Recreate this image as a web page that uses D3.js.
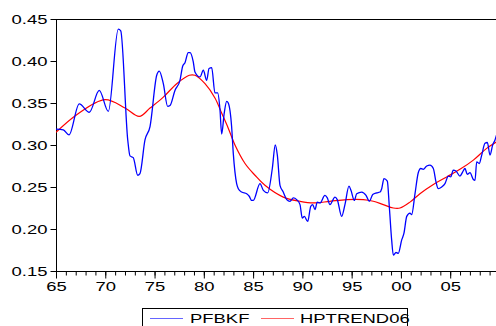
<!DOCTYPE html>
<html>
<head>
<meta charset="utf-8">
<script src="https://cdn.jsdelivr.net/npm/d3@7"></script>
<style>
  html, body { margin: 0; padding: 0; background: #fff; }
  svg { display: block; }
  text { font-family: "Liberation Sans", Arial, sans-serif; fill: #000; }
</style>
</head>
<body>
<svg id="chart" width="496" height="326"></svg>
<script>
// PFBKF series (decimal year, value)
const pfbkfYears = [
  1965.00, 1965.74, 1966.32, 1967.36, 1968.38, 1969.39, 1970.31, 1971.32, 1971.57, 1972.28,
  1972.51, 1972.84, 1973.29, 1973.52, 1974.03, 1974.54, 1975.22, 1975.48, 1975.89, 1976.33,
  1976.57, 1977.07, 1977.58, 1977.86, 1978.09, 1978.42, 1978.60, 1978.93, 1979.10, 1979.61,
  1979.95, 1980.29, 1980.53, 1980.80, 1981.13, 1981.40, 1981.64, 1981.81, 1982.07, 1982.32,
  1982.48, 1982.82, 1982.99, 1983.33, 1983.50, 1983.84, 1984.35, 1984.61, 1984.86, 1985.02,
  1985.70, 1986.04, 1986.48, 1986.95, 1987.25, 1987.46, 1987.73, 1988.06, 1988.41, 1988.74,
  1989.08, 1989.42, 1989.76, 1989.99, 1990.20, 1990.54, 1990.85, 1991.05, 1991.28, 1991.51,
  1991.79, 1992.29, 1992.53, 1992.80, 1993.31, 1993.54, 1993.99, 1994.32, 1994.73, 1994.93,
  1995.27, 1995.51, 1996.02, 1996.46, 1996.79, 1997.14, 1997.54, 1997.88, 1998.05, 1998.28,
  1998.62, 1998.82, 1999.06, 1999.23, 1999.50, 1999.73, 2000.08, 2000.31, 2000.59, 2000.92,
  2001.09, 2001.43, 2001.76, 2002.01, 2002.27, 2002.62, 2002.95, 2003.29, 2003.56, 2003.79,
  2004.14, 2004.47, 2004.81, 2005.05, 2005.31, 2005.59, 2005.99, 2006.27, 2006.50, 2006.74,
  2007.01, 2007.35, 2007.52, 2007.69, 2007.95, 2008.20, 2008.53, 2008.77, 2009.04, 2009.31,
  2009.55, 2009.75
];
const pfbkfValues = [
  0.319, 0.318, 0.312, 0.349, 0.339, 0.365, 0.340, 0.438, 0.436, 0.306,
  0.287, 0.285, 0.264, 0.266, 0.306, 0.322, 0.383, 0.388, 0.373, 0.346,
  0.347, 0.365, 0.377, 0.394, 0.398, 0.410, 0.410, 0.399, 0.387, 0.381,
  0.389, 0.377, 0.391, 0.392, 0.362, 0.362, 0.342, 0.313, 0.338, 0.352,
  0.350, 0.322, 0.290, 0.254, 0.248, 0.244, 0.242, 0.239, 0.234, 0.234,
  0.254, 0.246, 0.243, 0.272, 0.300, 0.288, 0.252, 0.244, 0.235, 0.233,
  0.237, 0.235, 0.229, 0.213, 0.215, 0.209, 0.227, 0.229, 0.223, 0.232,
  0.231, 0.240, 0.237, 0.229, 0.238, 0.235, 0.215, 0.229, 0.251, 0.246,
  0.234, 0.242, 0.244, 0.240, 0.233, 0.241, 0.243, 0.244, 0.248, 0.260,
  0.257, 0.227, 0.187, 0.169, 0.172, 0.171, 0.187, 0.195, 0.215, 0.219,
  0.217, 0.242, 0.267, 0.272, 0.271, 0.275, 0.276, 0.272, 0.256, 0.248,
  0.250, 0.254, 0.263, 0.262, 0.270, 0.269, 0.263, 0.268, 0.272, 0.265,
  0.267, 0.259, 0.258, 0.280, 0.278, 0.288, 0.302, 0.303, 0.288, 0.300,
  0.306, 0.314
];

// Hodrick-Prescott trend
const trendYears = [
  1965.00, 1967.10, 1969.97, 1972.00, 1973.45, 1974.54, 1975.89, 1977.25, 1978.53, 1979.10,
  1980.12, 1981.13, 1981.81, 1982.48, 1983.16, 1984.18, 1985.19, 1986.20, 1988.06, 1989.76,
  1991.11, 1992.80, 1994.50, 1996.18, 1997.20, 1998.21, 1999.23, 1999.91, 2000.92, 2001.93,
  2003.29, 2004.65, 2005.99, 2007.35, 2008.70, 2009.75
];
const trendValues = [
  0.315, 0.336, 0.354, 0.344, 0.334, 0.344, 0.357, 0.373, 0.383, 0.383,
  0.373, 0.356, 0.338, 0.320, 0.300, 0.278, 0.264, 0.252, 0.238, 0.233,
  0.231, 0.233, 0.235, 0.235, 0.233, 0.229, 0.225, 0.225, 0.232, 0.242,
  0.253, 0.262, 0.271, 0.282, 0.296, 0.304
];

const yTicks = [0.15, 0.20, 0.25, 0.30, 0.35, 0.40, 0.45];
const xMajorTicks = [1965, 1970, 1975, 1980, 1985, 1990, 1995, 2000, 2005];
const xMinorTicks = d3.range(1965, 2010);
const seriesNames = ["PFBKF", "HPTREND06"];
const seriesColors = ["#0000ff", "#ff0000"];

const svg = d3.select("#chart");
const plotLeft = 56, plotRight = 497, plotTop = 19, plotBottom = 271;
const stretch = 1.42;   // wide lettering

const x = d3.scaleLinear().domain([1965, 2009.75]).range([plotLeft, plotRight]);
const y = d3.scaleLinear().domain([0.15, 0.45]).range([plotBottom, plotTop]);

svg.append("rect").attr("width", 496).attr("height", 326).attr("fill", "#fff");

svg.append("defs").append("clipPath").attr("id", "plotclip")
  .append("rect").attr("x", plotLeft).attr("y", plotTop - 2)
  .attr("width", plotRight - plotLeft).attr("height", plotBottom - plotTop + 4);

// frame: top border
svg.append("line")
  .attr("x1", plotLeft).attr("x2", plotRight + 5)
  .attr("y1", plotTop + 0.5).attr("y2", plotTop + 0.5)
  .attr("stroke", "#000").attr("stroke-width", 1);

// y axis
const yAxis = svg.append("g").attr("transform", `translate(${plotLeft + 0.5},0)`)
  .call(d3.axisLeft(y).tickValues(yTicks).tickSize(6).tickFormat(d3.format(".2f")));
yAxis.select(".domain").attr("d", `M0,${plotTop}V${plotBottom}`).attr("stroke", "#000");
yAxis.selectAll(".tick text")
  .attr("x", null).attr("dy", null)
  .attr("transform", `translate(-9,4.6) scale(${stretch},1)`)
  .attr("font-size", 13).attr("font-family", "Liberation Sans, Arial, sans-serif")
  .attr("text-anchor", "end");

// x axis: minor yearly ticks, major every five years
const xAxisMinor = svg.append("g").attr("transform", `translate(0,${plotBottom + 0.5})`)
  .call(d3.axisBottom(x).tickValues(xMinorTicks).tickSize(4).tickFormat(""));
xAxisMinor.select(".domain").attr("d", `M${plotLeft},0H${plotRight + 5}`).attr("stroke", "#000");

const xAxis = svg.append("g").attr("transform", `translate(0,${plotBottom + 0.5})`)
  .call(d3.axisBottom(x).tickValues(xMajorTicks).tickSize(7)
    .tickFormat(d => String(d % 100).padStart(2, "0")));
xAxis.select(".domain").remove();
xAxis.selectAll(".tick text")
  .attr("y", null).attr("dy", null)
  .attr("transform", `translate(0,19.5) scale(${stretch},1)`)
  .attr("font-size", 13).attr("font-family", "Liberation Sans, Arial, sans-serif");

// series lines
const plot = svg.append("g").attr("clip-path", "url(#plotclip)");

const trendLine = d3.line()
  .x((d, i) => x(trendYears[i])).y(d => y(d))
  .curve(d3.curveCatmullRom.alpha(0.5));
const seriesLine = d3.line()
  .x((d, i) => x(pfbkfYears[i])).y(d => y(d))
  .curve(d3.curveMonotoneX);

plot.append("path").datum(trendValues)
  .attr("d", trendLine).attr("fill", "none")
  .attr("stroke", seriesColors[1]).attr("stroke-width", 1.2);
plot.append("path").datum(pfbkfValues)
  .attr("d", seriesLine).attr("fill", "none")
  .attr("stroke", seriesColors[0]).attr("stroke-width", 1.3)
  .attr("stroke-linejoin", "round");

// legend
const legend = svg.append("g");
legend.append("rect")
  .attr("x", 142.5).attr("y", 308.5).attr("width", 265).attr("height", 30)
  .attr("fill", "#fff").attr("stroke", "#000").attr("stroke-width", 1);
const legendItems = [
  { name: seriesNames[0], color: seriesColors[0], x0: 150, tx: 190 },
  { name: seriesNames[1], color: seriesColors[1], x0: 261, tx: 300 }
];
legendItems.forEach(it => {
  legend.append("line")
    .attr("x1", it.x0).attr("x2", it.x0 + 33).attr("y1", 318.5).attr("y2", 318.5)
    .attr("stroke", it.color).attr("stroke-width", 1).attr("opacity", 0.6);
  legend.append("text")
    .attr("transform", `translate(${it.tx},323) scale(${stretch},1)`)
    .attr("font-size", 13).text(it.name);
});
</script>
</body>
</html>
